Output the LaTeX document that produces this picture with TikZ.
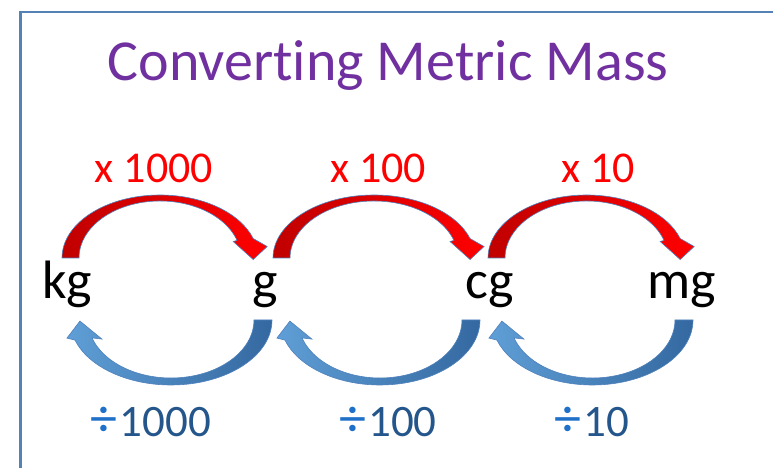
\documentclass[tikz,border=0pt]{standalone}
\usepackage{fontspec}
\setmainfont{Carlito}[Ligatures=NoCommon]
\usetikzlibrary{calc}
\definecolor{titlepurple}{RGB}{112,48,160}
\definecolor{mulred}{RGB}{255,0,0}
\definecolor{muldark}{RGB}{192,0,0}
\definecolor{divlight}{RGB}{95,158,214}
\definecolor{divdark}{RGB}{52,104,160}
\definecolor{divsign}{RGB}{30,112,200}
\definecolor{divnum}{RGB}{36,86,140}
\definecolor{edgeblue}{RGB}{79,129,189}
\definecolor{framecol}{RGB}{84,130,180}

% curved arrow over the top: #1 from node, #2 to node, #3/#4 shift of the two ends
\newcommand{\mularrow}[4]{%
  \path[mulshape] let \p1=(#1.base), \p2=(#2.base),
      \n1={(\x2+(#4)-\x1-(#3))/2}, \n2={\x1+(#3)} in
    (\n2,\y1+41) arc[start angle=180, end angle=18, x radius=\n1, y radius=63pt]
    -- ++(14,-8) -- ++(-14,-13) -- ++(-20,18)
    -- ({\n2+\n1+(\n1-17)*cos(18)}, {\y1+41+57*sin(18)})
    arc[start angle=18, end angle=180, x radius=\n1-17pt, y radius=57pt] -- cycle;
}
% curved arrow under the bottom: #1 to node (left), #2 from node (right)
\newcommand{\divarrow}[4]{%
  \path[divshape] let \p1=(#1.base), \p2=(#2.base),
      \n1={(\x2+(#4)-\x1-(#3))/2}, \n2={\x2+(#4)} in
    (\n2,\y1-21) arc[start angle=0, end angle=-162, x radius=\n1, y radius=65pt]
    -- ++(-8,2) -- ++(13,17) -- ++(22,-18)
    -- ({\n2-\n1-(\n1-18)*cos(18)}, {\y1-21-58*sin(18)})
    arc[start angle=-162, end angle=0, x radius=\n1-18pt, y radius=58pt] -- cycle;
}
\newcommand{\divsign}{{\color{divsign}\fontsize{54}{50}\selectfont ÷}}

\begin{document}
\begin{tikzpicture}[
    x=1pt, y=1pt,
    unit/.style={font=\fontsize{54}{60}\selectfont, anchor=base, inner sep=0pt},
    mullbl/.style={font=\fontsize{44}{50}\selectfont, text=mulred, anchor=base, inner sep=0pt},
    divlbl/.style={font=\fontsize{45}{50}\selectfont, text=divnum, anchor=base, inner sep=0pt},
    mulshape/.style={left color=muldark, right color=mulred, draw=edgeblue, line width=0.6pt},
    divshape/.style={left color=divlight, right color=divdark, draw=edgeblue, line width=0.6pt},
]
\useasboundingbox (0,0) rectangle (773,468);
\clip (0,0) rectangle (773,468);
\draw[framecol, line width=2.2pt] (20.5,-20) rectangle (820,456);
% title
\node[font=\fontsize{58}{64}\selectfont, text=titlepurple, anchor=base] (title) at (388,387) {Converting Metric Mass};
% units
\node[unit] (kg) at (67,169) {kg};
\node[unit] (g) at (265,169) {g};
\node[unit] (cg) at (490,169) {cg};
\node[unit] (mg) at (682,169) {mg};
% multiply arrows
\mularrow{kg}{g}{-5}{-7}
\mularrow{g}{cg}{8}{-15}
\mularrow{cg}{mg}{-2}{3}
\node[mullbl] (m1) at (154,285) {x 1000};
\node[mullbl] (m2) at (378,285) {x 100};
\node[mullbl] (m3) at (598,285) {x 10};
% divide arrows
\divarrow{kg}{g}{3}{7}
\divarrow{g}{cg}{15}{-10}
\divarrow{cg}{mg}{2}{11}
\node[divlbl] (d1) at (151,31) {\divsign\hspace{2pt}1000};
\node[divlbl] (d2) at (388,31) {\divsign\hspace{2pt}100};
\node[divlbl] (d3) at (592,31) {\divsign\hspace{2pt}10};
\end{tikzpicture}
\end{document}
